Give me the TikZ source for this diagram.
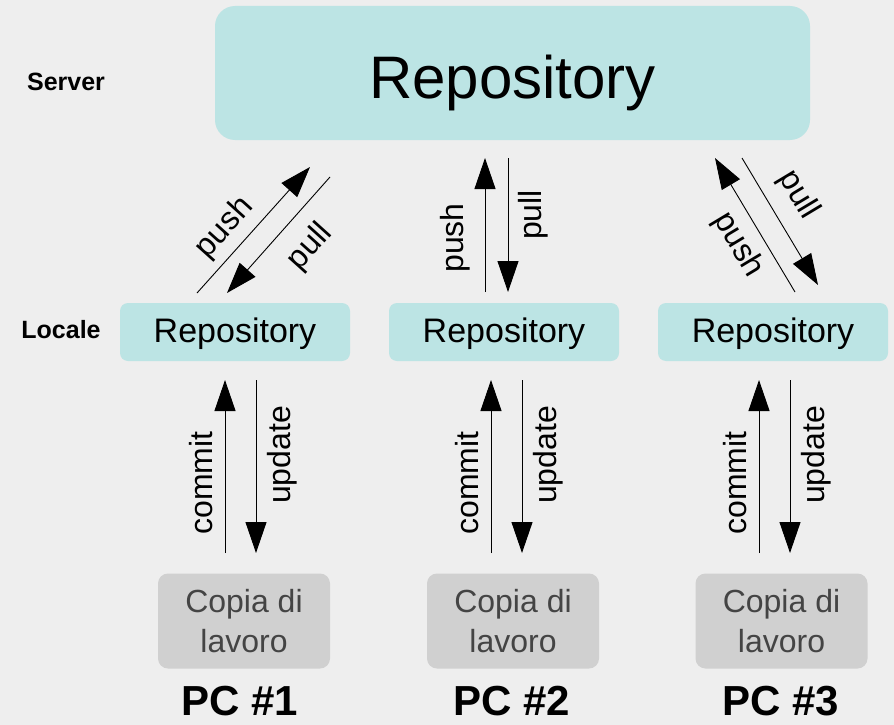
\documentclass[tikz,border=0pt]{standalone}
\usepackage{fontspec}
\setmainfont{Liberation Sans}
\usetikzlibrary{arrows.meta}
\definecolor{bg}{RGB}{238,238,238}
\definecolor{teal}{RGB}{188,228,228}
\definecolor{grayb}{RGB}{208,208,208}
\definecolor{graytext}{RGB}{68,68,68}
\tikzset{
  fs/.style={font=\fontsize{#1}{#1}\selectfont},
  repobox/.style={fill=teal, rounded corners=8pt, inner sep=0pt, minimum width=230pt, minimum height=58pt, fs=34, text height=20pt, text depth=0pt},
  copybox/.style={fill=grayb, rounded corners=10pt, inner sep=0pt, minimum width=172pt, minimum height=95pt, align=center, text=graytext, fs=32},
  pclabel/.style={font=\bfseries\fontsize{42}{42}\selectfont},
  sidelabel/.style={font=\bfseries\fontsize{25}{25}\selectfont},
  conn/.style={line width=0.9pt, -{Triangle[length=31pt,width=21pt]}},
  lbl/.style={fs=32, inner sep=0pt}
}
\begin{document}
\begin{tikzpicture}[x=1pt,y=-1pt]
\useasboundingbox (0,0) rectangle (894,725);
\fill[bg] (0,0) rectangle (894,725);

\node[fill=teal, rounded corners=20pt, minimum width=595pt, minimum height=134pt, inner sep=0pt, fs=60, text height=52pt, text depth=0pt] (server) at (512.5,73) {Repository};
\node[sidelabel] (srvlbl) at (66,82) {Server};
\node[sidelabel] (loclbl) at (61,330) {Locale};

\node[repobox] (r1) at (235,332) {Repository};
\node[repobox] (r2) at (504,332) {Repository};
\node[repobox] (r3) at (773,332) {Repository};

\node[copybox] (c1) at (244,621) {Copia di\\[8pt]lavoro};
\node[copybox] (c2) at (513,621) {Copia di\\[8pt]lavoro};
\node[copybox] (c3) at (781.5,621) {Copia di\\[8pt]lavoro};

\node[pclabel] (pc1) at (240,701) {PC \#1};
\node[pclabel] (pc2) at (512,701) {PC \#2};
\node[pclabel] (pc3) at (781,701) {PC \#3};

% commit / update
\foreach \i/\xa/\xb in {1/225/256, 2/491/522, 3/759/790}{
  \coordinate (cmA\i) at (\xa,553);
  \coordinate (cmB\i) at (\xa,380);
  \coordinate (upA\i) at (\xb,380);
  \coordinate (upB\i) at (\xb,553);
  \draw[conn] (cmA\i) -- (cmB\i);
  \draw[conn] (upA\i) -- (upB\i);
  \node[lbl, rotate=90] (cml\i) at (\xa-24,483) {commit};
  \node[lbl, rotate=90] (upl\i) at (\xb+26,455) {update};
}

% column 1 push/pull
\coordinate (p1a) at (197,293);
\coordinate (p1b) at (310,167);
\coordinate (q1a) at (330,177);
\coordinate (q1b) at (227,293);
\draw[conn] (p1a) -- (p1b);
\draw[conn] (q1a) -- (q1b);
\node[lbl, rotate=48] (pushl1) at (225,228) {push};
\node[lbl, rotate=48] (pulll1) at (310,247) {pull};

% column 2 push/pull
\coordinate (p2a) at (485,292);
\coordinate (p2b) at (485,158);
\coordinate (q2a) at (508,158);
\coordinate (q2b) at (508,292);
\draw[conn] (p2a) -- (p2b);
\draw[conn] (q2a) -- (q2b);
\node[lbl, rotate=90] (pushl2) at (455,238) {push};
\node[lbl, rotate=90] (pulll2) at (533,215) {pull};

% column 3 push/pull
\coordinate (p3a) at (795,292);
\coordinate (p3b) at (715,158);
\coordinate (q3a) at (742,158);
\coordinate (q3b) at (818,285);
\draw[conn] (p3a) -- (p3b);
\draw[conn] (q3a) -- (q3b);
\node[lbl, rotate=-59] (pushl3) at (738,245) {push};
\node[lbl, rotate=-59] (pulll3) at (798,195) {pull};
\end{tikzpicture}
\end{document}
